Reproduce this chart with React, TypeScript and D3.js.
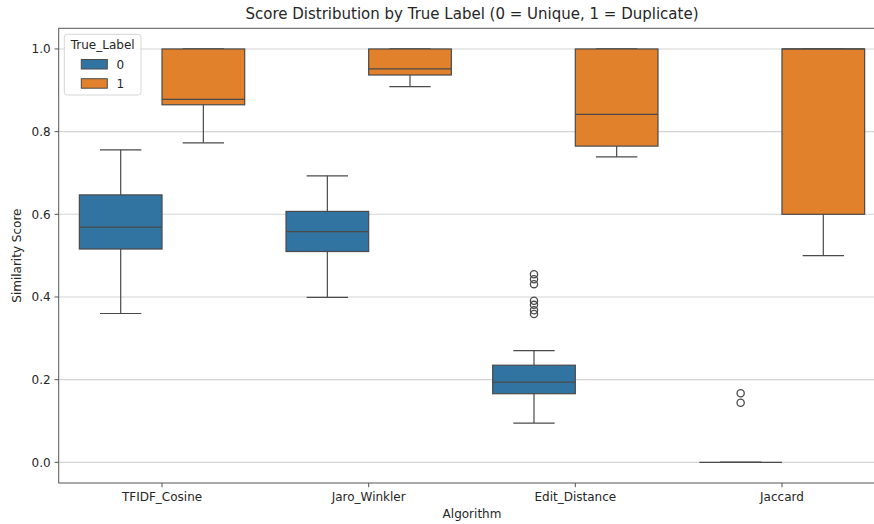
import React from "react";
import * as d3 from "d3";

const categories = ["TFIDF_Cosine", "Jaro_Winkler", "Edit_Distance", "Jaccard"];
const hueLabels = ["0", "1"];
const hueColors = ["#3274a1", "#e1812c"];

// label 0 (Unique)
const low0 = [0.36, 0.399, 0.095, 0.0];
const q1_0 = [0.516, 0.51, 0.166, 0.0];
const med0 = [0.569, 0.558, 0.194, 0.0];
const q3_0 = [0.647, 0.607, 0.235, 0.0];
const high0 = [0.756, 0.693, 0.27, 0.0];
const fliers0 = [[], [], [0.455, 0.443, 0.431, 0.391, 0.381, 0.368, 0.359], [0.167, 0.144]];

// label 1 (Duplicate)
const low1 = [0.773, 0.909, 0.739, 0.5];
const q1_1 = [0.865, 0.937, 0.765, 0.6];
const med1 = [0.878, 0.952, 0.842, 1.0];
const q3_1 = [1.0, 1.0, 1.0, 1.0];
const high1 = [1.0, 1.0, 1.0, 1.0];
const fliers1: number[][] = [[], [], [], []];

const yTicks = [0.0, 0.2, 0.4, 0.6, 0.8, 1.0];

const W = 874;
const H = 524;
const left = 58.7;
const right = 885.3;
const top = 28.3;
const bottom = 483;

const series = [
  { low: low0, q1: q1_0, med: med0, q3: q3_0, high: high0, fliers: fliers0 },
  { low: low1, q1: q1_1, med: med1, q3: q3_1, high: high1, fliers: fliers1 },
];

export default function App() {
  const x = d3.scaleBand<string>().domain(categories).range([left, right]).padding(0);
  const y = d3.scaleLinear().domain([-0.05, 1.05]).range([bottom, top]);
  const bw = x.bandwidth();
  const boxW = bw * 0.4;
  const line = "#4a4a4a";
  const font = "DejaVu Sans, sans-serif";

  return (
    <div style={{ position: "fixed", left: 0, top: 0 }}>
      <svg width={W} height={H} style={{ display: "block", background: "#fff" }} fontFamily={font}>
        <defs>
          <clipPath id="plot">
            <rect x={left} y={top} width={right - left} height={bottom - top} />
          </clipPath>
        </defs>
        {/* grid */}
        {yTicks.map((t) => (
          <line key={"g" + t} x1={left} x2={right} y1={y(t)} y2={y(t)} stroke="#d4d4d4" strokeWidth={1.1} />
        ))}
        {/* boxes */}
        <g clipPath="url(#plot)">
          {categories.map((c, i) => {
            const center = (x(c) as number) + bw / 2;
            return series.map((s, h) => {
              const cx = center + (h === 0 ? -boxW / 2 : boxW / 2);
              const x0 = cx - boxW / 2;
              const capW = boxW / 2;
              return (
                <g key={c + h}>
                  <line x1={cx} x2={cx} y1={y(s.q1[i])} y2={y(s.low[i])} stroke={line} strokeWidth={1.2} />
                  <line x1={cx} x2={cx} y1={y(s.q3[i])} y2={y(s.high[i])} stroke={line} strokeWidth={1.2} />
                  <line x1={cx - capW / 2} x2={cx + capW / 2} y1={y(s.low[i])} y2={y(s.low[i])} stroke={line} strokeWidth={1.2} />
                  <line x1={cx - capW / 2} x2={cx + capW / 2} y1={y(s.high[i])} y2={y(s.high[i])} stroke={line} strokeWidth={1.2} />
                  <rect
                    x={x0}
                    y={y(s.q3[i])}
                    width={boxW}
                    height={Math.max(0, y(s.q1[i]) - y(s.q3[i]))}
                    fill={hueColors[h]}
                    stroke={line}
                    strokeWidth={1.2}
                  />
                  <line x1={x0} x2={x0 + boxW} y1={y(s.med[i])} y2={y(s.med[i])} stroke={line} strokeWidth={1.2} />
                  {s.fliers[i].map((f, k) => (
                    <circle key={k} cx={cx} cy={y(f)} r={3.6} fill="none" stroke={line} strokeWidth={1.3} />
                  ))}
                </g>
              );
            });
          })}
        </g>
        {/* spines */}
        <rect x={left} y={top} width={right - left} height={bottom - top} fill="none" stroke="#555" strokeWidth={1} />
        {/* y ticks */}
        {yTicks.map((t) => (
          <g key={"y" + t}>
            <line x1={left - 4.2} x2={left} y1={y(t)} y2={y(t)} stroke="#555" strokeWidth={1} />
            <text x={left - 8} y={y(t)} dy="0.35em" textAnchor="end" fontSize={12} fill="#262626">
              {t.toFixed(1)}
            </text>
          </g>
        ))}
        {/* x ticks */}
        {categories.map((c) => {
          const cx = (x(c) as number) + bw / 2;
          return (
            <g key={"x" + c}>
              <line x1={cx} x2={cx} y1={bottom} y2={bottom + 4.2} stroke="#555" strokeWidth={1} />
              <text x={cx} y={501} textAnchor="middle" fontSize={12} fill="#262626">
                {c}
              </text>
            </g>
          );
        })}
        {/* axis labels */}
        <text x={(left + right) / 2} y={518} textAnchor="middle" fontSize={12} fill="#262626">
          Algorithm
        </text>
        <text
          transform={`translate(21,${(top + bottom) / 2}) rotate(-90)`}
          textAnchor="middle"
          fontSize={12}
          fill="#262626"
        >
          Similarity Score
        </text>
        {/* title */}
        <text x={(left + right) / 2} y={18.5} textAnchor="middle" fontSize={15} fill="#262626">
          Score Distribution by True Label (0 = Unique, 1 = Duplicate)
        </text>
        {/* legend */}
        <g>
          <rect x={64.3} y={34.3} width={76.7} height={60.7} rx={3} fill="#fff" fillOpacity={0.8} stroke="#d6d6d6" strokeWidth={1} />
          <text x={102.7} y={49} textAnchor="middle" fontSize={12} fill="#262626">
            True_Label
          </text>
          {hueLabels.map((lab, h) => (
            <g key={lab}>
              <rect x={81.3} y={59.5 + h * 19.2} width={26} height={9.5} fill={hueColors[h]} stroke={line} strokeWidth={1} />
              <text x={116.5} y={69 + h * 18.7} fontSize={12} fill="#262626">
                {lab}
              </text>
            </g>
          ))}
        </g>
      </svg>
    </div>
  );
}
